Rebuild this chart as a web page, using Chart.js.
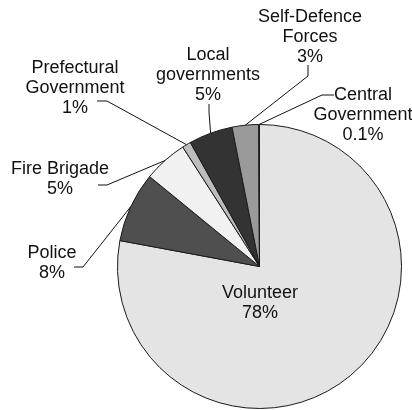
<!DOCTYPE html>
<html>
<head>
<meta charset="utf-8">
<script src="https://cdn.jsdelivr.net/npm/chart.js@4"></script>
<style>
  body { margin: 0; background: #fff; }
  #wrap { width: 412px; height: 410px; position: relative; }
</style>
</head>
<body>
<div id="wrap"><canvas id="grafico"></canvas></div>
<script>
// datos del gráfico
const categorias = ["Volunteer", "Police", "Fire Brigade", "Prefectural\nGovernment",
  "Local\ngovernments", "Self-Defence\nForces", "Central\nGovernment"];
const porcentajes = [78, 8, 5, 1, 5, 3, 0.1];
const colores = ["#e4e4e4", "#4f4f4f", "#f1f1f1", "#bdbdbd", "#333333", "#9a9a9a", "#ffffff"];

// posición de cada etiqueta (centro de la primera línea) y codos de las líneas guía
const disposicion = [
  { x: 260, y: 293 },
  { x: 52, y: 253, codo: [83, 267], fin: [74, 267] },
  { x: 60, y: 169, codo: [107, 185], fin: [98, 185] },
  { x: 75, y: 68, codo: [107, 101], fin: [97, 101] },
  { x: 208, y: 55, codo: [209, 112], fin: [209, 104] },
  { x: 310, y: 17, codo: [308, 76], fin: [308, 65] },
  { x: 363, y: 95, codo: [322, 95], fin: [334, 95] },
];

const pluginEtiquetas = {
  id: "etiquetas",
  afterDatasetsDraw(chart) {
    const ctx = chart.ctx;
    const arcos = chart.getDatasetMeta(0).data;
    ctx.save();
    ctx.font = "18px 'Liberation Sans', Arial, sans-serif";
    ctx.fillStyle = "#111";
    ctx.strokeStyle = "#111";
    ctx.lineWidth = 1;
    ctx.textAlign = "center";
    ctx.textBaseline = "middle";
    arcos.forEach((arco, i) => {
      const d = disposicion[i];
      const p = arco.getProps(["x", "y", "startAngle", "endAngle", "outerRadius"], true);
      if (d.codo) {
        const ang = (p.startAngle + p.endAngle) / 2;
        const px = p.x + Math.cos(ang) * p.outerRadius;
        const py = p.y + Math.sin(ang) * p.outerRadius;
        ctx.beginPath();
        ctx.moveTo(px, py);
        ctx.lineTo(d.codo[0], d.codo[1]);
        ctx.lineTo(d.fin[0], d.fin[1]);
        ctx.stroke();
      }
      const lineas = categorias[i].split("\n").concat([porcentajes[i] + "%"]);
      lineas.forEach((t, k) => ctx.fillText(t, d.x, d.y + k * 20));
    });
    ctx.restore();
  },
};

new Chart(document.getElementById("grafico").getContext("2d"), {
  type: "pie",
  data: {
    labels: categorias,
    datasets: [
      {
        data: porcentajes,
        backgroundColor: colores,
        borderColor: "#1a1a1a",
        borderWidth: 1,
      },
    ],
  },
  options: {
    responsive: true,
    maintainAspectRatio: false,
    animation: false,
    layout: { padding: { top: 124, bottom: 1, left: 112, right: 5 } },
    plugins: {
      legend: { display: false },
      tooltip: { enabled: false },
    },
  },
  plugins: [pluginEtiquetas],
});
</script>
</body>
</html>
